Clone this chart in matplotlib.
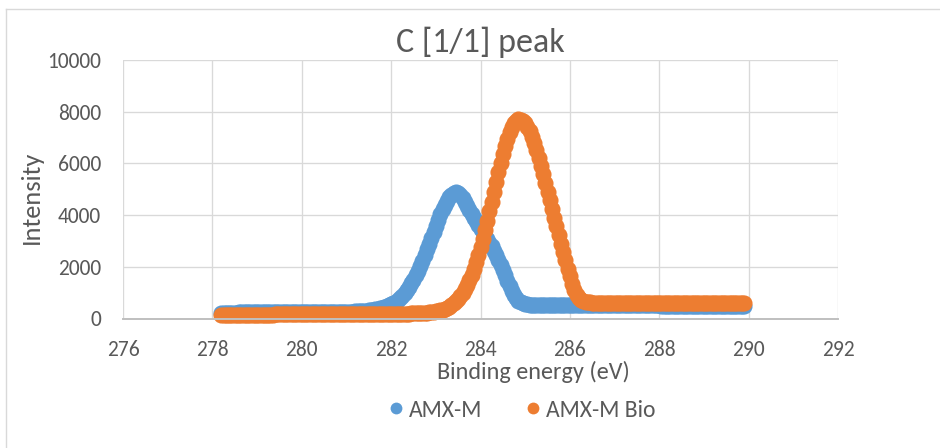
import numpy as np
import matplotlib
matplotlib.use("Agg")
import matplotlib.pyplot as plt
from matplotlib import font_manager
from matplotlib.lines import Line2D

# Pick a Calibri-like face if it is installed, fall back to DejaVu Sans.
_installed = {f.name for f in font_manager.fontManager.ttflist}
plt.rcParams["font.family"] = [f for f in ["Carlito", "Lato", "Open Sans"] if f in _installed] + ["DejaVu Sans"]

# ---- data -----------------------------------------------------------------
series_names = ["AMX-M", "AMX-M Bio"]
series_colors = ["#5B9BD5", "#ED7D31"]

energy_start = 278.2   # eV, first sample
energy_step = 0.05     # eV, sampling step

# Intensity of AMX-M, one value per sample
amx_m = [
    230, 230, 231, 231, 231, 232, 232, 232, 233, 233,
    233, 234, 234, 234, 235, 235, 235, 236, 236, 236,
    237, 237, 237, 237, 238, 238, 238, 238, 239, 239,
    239, 239, 240, 240, 240, 240, 240, 241, 241, 241,
    241, 241, 242, 242, 242,
    242, 243, 244, 245, 246, 247, 248, 250, 252, 254,
    256, 259, 262, 266, 270, 275, 280, 286, 292, 300,
    308, 318, 330, 342, 358, 374, 393, 414,
    440, 471, 506, 548, 599, 655, 722, 797, 884, 983,
    1093, 1218, 1355, 1506, 1671, 1848, 2039, 2241, 2454, 2674,
    2901, 3131, 3361, 3590, 3812, 4024, 4220, 4399, 4554, 4683,
    4780, 4845, 4875,
    4850, 4780, 4660, 4510, 4350, 4190, 4040, 3895, 3755, 3615,
    3480, 3345, 3210, 3075, 2935, 2790, 2630, 2455, 2270, 2075,
    1875, 1670, 1465, 1265, 1080, 920, 790, 690, 625, 585,
    560, 548, 540, 535, 532,
    530, 530, 529, 529, 528, 528, 527, 527, 526, 526,
    525, 525, 524, 524, 523, 523, 522, 522, 521, 521,
    520, 520, 519, 519, 518,
    518, 517, 517, 516, 516, 515, 515, 514, 514, 513,
    513, 512, 512, 511, 511, 510, 510, 509, 509, 508,
    508, 507, 507, 506, 506, 505, 505, 504, 504, 503,
    503, 502, 502, 501, 501, 500, 500, 500, 499, 499,
    499, 498, 498, 498, 497, 497, 497, 496, 496, 496,
    496, 495, 495, 495, 495, 494, 494, 494, 494, 494,
    493, 493, 493, 493, 493, 492, 492, 492, 492,
]

# Intensity of AMX-M Bio, one value per sample
amx_m_bio = [
    150, 150, 150, 150, 150, 151, 151, 151, 151, 151,
    152, 152, 152, 152, 152, 153, 153, 153, 153, 153,
    154, 154, 154, 154, 155, 155, 155, 155, 156, 156,
    156, 156, 157, 157, 157, 157, 158, 158, 158, 158,
    159, 159, 159, 160, 160, 160, 161, 161, 161, 162,
    162, 162, 163, 163, 164, 164, 165, 165, 166, 166,
    167, 167, 168,
    168, 169, 170, 170, 171, 172, 173, 173, 174, 175,
    176, 177, 178, 179, 180, 182, 183, 185, 187, 189,
    191, 193, 196, 199, 203, 207, 211, 216, 221, 228,
    237, 247, 260, 276, 293, 316, 343, 377, 416, 464,
    520, 589, 668, 761, 871, 997, 1142, 1307, 1492, 1701,
    1931, 2185, 2462, 2762, 3081, 3420, 3775, 4142, 4519, 4900,
    5278, 5651, 6011, 6353, 6667, 6951, 7196, 7398, 7551, 7654,
    7700,
    7696, 7648, 7556, 7422, 7248, 7037, 6794, 6523, 6228, 5914,
    5587, 5249, 4909, 4568, 4230, 3902, 3570, 3235, 2900, 2570,
    2245, 1930, 1630, 1350, 1110, 920, 800, 720, 675, 650,
    635, 625, 618, 613, 610, 607, 605, 604, 603, 602,
    601, 601, 601, 600, 600, 600, 600, 600, 600, 600,
    600, 600, 599, 599, 599, 599, 599, 599, 599, 599,
    598, 598, 598, 598, 598, 598, 598, 598, 598, 598,
    597, 597, 597, 597, 597, 597, 597, 597, 597, 597,
    597, 597, 596, 596, 596, 596, 596, 596, 596, 596,
    595, 595, 595, 595, 595, 595, 595, 595, 595, 595, 595,
]

x_ticks = [276, 278, 280, 282, 284, 286, 288, 290, 292]
y_ticks = [0, 2000, 4000, 6000, 8000, 10000]

title_text = "C [1/1] peak"
x_label = "Binding energy (eV)"
y_label = "Intensity"

# ---- figure -----------------------------------------------------------------
W, H = 940, 448
text_color = "#595959"
grid_color = "#d9d9d9"

fig = plt.figure(figsize=(W / 100, H / 100), dpi=100)
fig.patch.set_facecolor("white")

# outer chart-area frame (top and left edges fall inside the canvas)
fig.add_artist(Line2D([5.5 / W, 1.0], [1 - 9.5 / H] * 2, transform=fig.transFigure,
                      color=grid_color, lw=1.0))
fig.add_artist(Line2D([5.5 / W] * 2, [0.0, 1 - 9.5 / H], transform=fig.transFigure,
                      color=grid_color, lw=1.0))

ax = fig.add_axes([123 / W, 1 - 318.5 / H, 715 / W, 258.5 / H])
ax.set_xlim(x_ticks[0], x_ticks[-1])
ax.set_ylim(y_ticks[0], y_ticks[-1])
ax.set_xticks(x_ticks)
ax.set_yticks(y_ticks)
ax.set_axisbelow(True)
ax.grid(True, color=grid_color, linewidth=0.95)
for side in ("top", "right", "left"):
    ax.spines[side].set_visible(False)
ax.spines["bottom"].set_color("#bfbfbf")
ax.spines["bottom"].set_linewidth(1.4)
ax.tick_params(axis="x", length=0, labelsize=15.5, labelcolor=text_color, pad=15.5)
ax.tick_params(axis="y", length=0, labelsize=15.5, labelcolor=text_color, pad=16)

energy = np.round(energy_start + energy_step * np.arange(len(amx_m)), 2)
for values, color in zip([amx_m, amx_m_bio], series_colors):
    ax.plot(energy[:len(values)], values, linestyle="none", marker="o",
            markersize=11.6, markeredgewidth=0, color=color, clip_on=False)

fig.text(480.5 / W, 1 - 51.7 / H, title_text, ha="center", va="baseline",
         fontsize=24.5, color=text_color)
fig.text(533.5 / W, 1 - 360.5 / H, x_label, ha="center", va="top",
         fontsize=17.5, color=text_color)
fig.text(31 / W, 1 - 197 / H, y_label, ha="center", va="center", rotation=90,
         fontsize=19, color=text_color)

handles = [Line2D([], [], linestyle="none", marker="o", markersize=8.5,
                  markeredgewidth=0, color=c) for c in series_colors]
fig.legend(handles, series_names, loc="center", bbox_to_anchor=(522 / W, 1 - 410 / H),
           ncol=2, frameon=False, fontsize=17, handlelength=0.7, handletextpad=0.2,
           columnspacing=1.8, labelcolor=text_color, borderpad=0)

fig.savefig("out.png", dpi=100, facecolor="white")
